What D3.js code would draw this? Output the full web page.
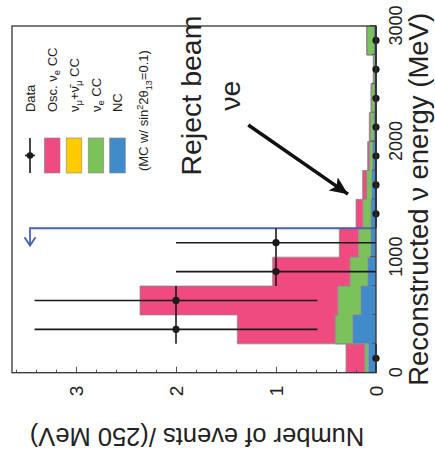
<!DOCTYPE html>
<html><head><meta charset="utf-8">
<script src="https://cdn.jsdelivr.net/npm/d3@7"></script>
<style>
body{margin:0;background:#fff}
text{font-family:"Liberation Sans",Arial,Helvetica,sans-serif;fill:#222}
</style></head><body>
<svg id="c" width="435" height="466"></svg>
<script>
// ---- data ----
const binEdges = [0,250,500,750,1000,1250,1500,1750,2000,2250,2500,2750,3000];
const ncValues      = [0.077,0.233,0.150,0.080,0.050,0.050,0.043,0.033,0.020,0.015,0.010,0.020];
const nueCCValues   = [0.028,0.170,0.227,0.176,0.117,0.077,0.050,0.033,0.037,0.030,0.015,0.070];
const numuCCValues  = [0.010,0.005,0.005,0.005,0.010,0.005,0.002,0.002,0.002,0.002,0.001,0.002];
const oscNueValues  = [0.185,0.979,1.978,0.772,0.190,0.068,0.038,0.015,0.008,0.003,0.001,0.001];
const dataCounts    = [0,2,2,1,1,0,0,0,0,0,0,0];
const energyTicks = [0,1000,2000,3000];
const eventTicks = [0,1,2,3];
const cutEnergy = 1250;
const layerKeys = ["nc","nuecc","numucc","osc"];
const layerColors = {nc:"#428bcb",nuecc:"#7cc25b",numucc:"#ffcc00",osc:"#ef4b80"};

// ---- frame (chart drawn unrotated, then turned -90deg) ----
const W = 346.7, H = 364;
const svg = d3.select("#c");
const g = svg.append("g").attr("transform","translate(12,372.7) rotate(-90)");
const x = d3.scaleLinear().domain([0,3000]).range([0,W]);
const y = d3.scaleLinear().domain([0,3.64]).range([H,0]);

const rows = ncValues.map((v,i)=>({e:binEdges[i],nc:v,nuecc:nueCCValues[i],numucc:numuCCValues[i],osc:oscNueValues[i]}));
const stack = d3.stack().keys(layerKeys)(rows);

stack.forEach(layer=>{
  const pts = layer.map((d,i)=>({e:binEdges[i],lo:d[0],hi:d[1]}));
  const last = pts[pts.length-1];
  pts.push({e:binEdges[binEdges.length-1],lo:last.lo,hi:last.hi});
  const area = d3.area().curve(d3.curveStepAfter).x(d=>x(d.e)).y0(d=>y(d.lo)).y1(d=>y(d.hi));
  g.append("path").attr("d",area(pts)).attr("fill",layerColors[layer.key]).attr("stroke","none");
  layer._pts = pts;
});
stack.forEach(layer=>{
  const line = d3.line().curve(d3.curveStepAfter).x(d=>x(d.e)).y(d=>y(d.hi));
  g.append("path").attr("d",line(layer._pts)).attr("fill","none").attr("stroke","#8a8a8a").attr("stroke-width",0.8);
});

// cut line
g.append("path")
  .attr("d",`M${x(cutEnergy)},${y(0)}L${x(cutEnergy)},${y(3.46)}L${x(1100)},${y(3.46)}`)
  .attr("fill","none").attr("stroke","#4a62b6").attr("stroke-width",1.8);
g.append("path")
  .attr("d",`M${x(1172)},${y(3.515)}L${x(1100)},${y(3.46)}L${x(1172)},${y(3.405)}`)
  .attr("fill","none").attr("stroke","#4a62b6").attr("stroke-width",1.8);

// data
dataCounts.forEach((n,i)=>{
  const e0=binEdges[i], e1=binEdges[i+1], ec=(e0+e1)/2, err=Math.sqrt(n);
  g.append("line").attr("x1",x(e0)).attr("x2",x(e1)).attr("y1",y(n)).attr("y2",y(n)).attr("stroke","#1a1a1a").attr("stroke-width",1.6);
  if(n>0) g.append("line").attr("x1",x(ec)).attr("x2",x(ec)).attr("y1",y(n-err)).attr("y2",y(n+err)).attr("stroke","#1a1a1a").attr("stroke-width",1.6);
});
dataCounts.forEach((n,i)=>{
  g.append("circle").attr("cx",x((binEdges[i]+binEdges[i+1])/2)).attr("cy",y(n)).attr("r",3.6).attr("fill","#1a1a1a");
});

// axes
const axE = d3.axisBottom(x).tickValues(energyTicks).tickSizeInner(-6).tickSizeOuter(0).tickPadding(13).tickFormat(d3.format("d"));
const axEm = d3.axisBottom(x).tickValues(d3.range(250,3000,250)).tickSizeInner(-4).tickSizeOuter(0).tickFormat("");
const axN = d3.axisLeft(y).tickValues(eventTicks).tickSizeInner(-6).tickSizeOuter(0).tickPadding(13).tickFormat(d3.format("d"));
const axNm = d3.axisLeft(y).tickValues(d3.range(0.2,3.61,0.2)).tickSizeInner(-3).tickSizeOuter(0).tickFormat("");
[[axEm,`translate(0,${H})`],[axE,`translate(0,${H})`],[axNm,null],[axN,null]].forEach(([a,t])=>{
  const ag = g.append("g").call(a);
  if(t) ag.attr("transform",t);
  ag.select(".domain").remove();
  ag.selectAll("line").attr("stroke","#555");
  ag.selectAll("text").attr("font-size",a===axE?18:19).attr("fill","#333").attr("font-family","Liberation Sans, Arial, sans-serif");
});
g.append("rect").attr("x",0).attr("y",0).attr("width",W).attr("height",H).attr("fill","none").attr("stroke","#333").attr("stroke-width",1.3);

// axis titles
g.append("text").attr("x",W/2).attr("y",H+52).attr("text-anchor","middle").attr("font-size",27.5)
  .text("Reconstructed ν energy (MeV)");
g.append("text").attr("transform",`translate(-55,${H/2 + 3}) rotate(-90)`).attr("text-anchor","middle").attr("font-size",25.5)
  .text("Number of events /(250 MeV)");

// legend
const lx0 = x(1728), lx1 = x(2031), tx = x(2255);
const rowV = [18,40.2,62,84,105.5];
g.append("line").attr("x1",lx0).attr("x2",lx1).attr("y1",rowV[0]).attr("y2",rowV[0]).attr("stroke","#1a1a1a").attr("stroke-width",1.6);
g.append("line").attr("x1",(lx0+lx1)/2).attr("x2",(lx0+lx1)/2).attr("y1",rowV[0]-5).attr("y2",rowV[0]+5).attr("stroke","#1a1a1a").attr("stroke-width",1.6);
g.append("circle").attr("cx",(lx0+lx1)/2).attr("cy",rowV[0]).attr("r",3.3).attr("fill","#1a1a1a");
["osc","numucc","nuecc","nc"].forEach((k,i)=>{
  g.append("rect").attr("x",lx0).attr("y",rowV[i+1]-7.8).attr("width",lx1-lx0).attr("height",15.6)
    .attr("fill",layerColors[k]).attr("stroke","#888").attr("stroke-width",0.6);
});
const legendParts = [
  [["Data",0]],
  [["Osc. ν",0],["e",1],[" CC",-1]],
  [["ν",0],["μ",1],["+",-1],["ν̄",0],["μ",1],["  CC",-1]],
  [["ν",0],["e",1],[" CC",-1]],
  [["NC",0]]
];
legendParts.forEach((parts,i)=>{
  const t = g.append("text").attr("x",tx).attr("y",rowV[i]+4.7).attr("font-size",13);
  parts.forEach(([s,m])=>{
    const ts = t.append("tspan").text(s);
    if(m===1){ ts.attr("dy",3.5).attr("font-size",9.5); }
    else if(m===-1){ ts.attr("dy",-3.5); }
  });
});
const mc = g.append("text").attr("x",x(1745)).attr("y",136).attr("font-size",13);
mc.append("tspan").text("(MC w/ sin");
mc.append("tspan").text("2").attr("dy",-5).attr("font-size",9);
mc.append("tspan").text("2θ").attr("dy",5);
mc.append("tspan").text("13").attr("dy",3.5).attr("font-size",9);
mc.append("tspan").text("=0.1)").attr("dy",-3.5);

// annotation
svg.append("defs").append("marker").attr("id","ah").attr("markerUnits","userSpaceOnUse")
  .attr("markerWidth",20).attr("markerHeight",16).attr("refX",18).attr("refY",8).attr("orient","auto")
  .append("path").attr("d","M0,0L18,8L0,16L4,8Z").attr("fill","#111");
g.append("line").attr("x1",x(2143)).attr("y1",y(1.277)).attr("x2",x(1545)).attr("y2",y(0.28))
  .attr("stroke","#111").attr("stroke-width",3.5).attr("marker-end","url(#ah)");
g.append("text").attr("x",x(2398)).attr("y",y(1.75)).attr("text-anchor","middle").attr("font-size",28.5).attr("fill","#111").text("Reject beam");
g.append("text").attr("x",x(2398)).attr("y",y(1.36)).attr("text-anchor","middle").attr("font-size",28.5).attr("fill","#111").text("νe");
</script>
</body></html>
